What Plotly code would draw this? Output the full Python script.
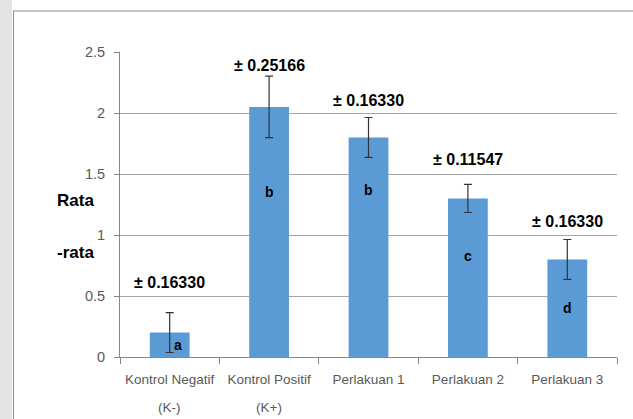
import plotly.graph_objects as go

categories = ["Kontrol Negatif (K-)", "Kontrol Positif (K+)", "Perlakuan 1", "Perlakuan 2", "Perlakuan 3"]
tick_line1 = ["Kontrol Negatif", "Kontrol Positif", "Perlakuan 1", "Perlakuan 2", "Perlakuan 3"]
tick_line2 = ["(K-)", "(K+)", "", "", ""]
means = [0.2, 2.05, 1.8, 1.3, 0.8]
sd = [0.16330, 0.25166, 0.16330, 0.11547, 0.16330]
sd_labels = ["± 0.16330", "± 0.25166", "± 0.16330", "± 0.11547", "± 0.16330"]
sd_label_y = [0.61, 2.39, 2.10, 1.62, 1.11]
letters = ["a", "b", "b", "c", "d"]
letter_y = [0.10, 1.35, 1.37, 0.83, 0.40]
y_ticks = [0, 0.5, 1, 1.5, 2, 2.5]
y_tick_text = ["0", "0.5", "1", "1.5", "2", "2.5"]

W, H = 633, 419
L, R, T, B = 120, 16, 52, 62
pw = W - L - R
ph = H - T - B

def px_x(x):
    return (x - L) / pw

def px_y(y):
    return (H - B - y) / ph

fig = go.Figure()
fig.add_trace(go.Bar(
    x=categories, y=means,
    marker=dict(color="#5b9bd5", line=dict(width=0)),
    error_y=dict(type="data", array=sd, visible=True, color="#333333", thickness=1.2, width=4),
    width=0.4,
))

tick_font = dict(family="Liberation Sans", size=13.5, color="#595959")
ytick_font = dict(family="Liberation Sans", size=14.5, color="#595959")

annotations = []
for c, lab, ly in zip(categories, sd_labels, sd_label_y):
    annotations.append(dict(x=c, y=ly, text="<b>" + lab + "</b>", showarrow=False,
                            font=dict(family="Liberation Sans", size=16, color="#000000"),
                            xref="x", yref="y"))
for i, (c, lt, ly) in enumerate(zip(categories, letters, letter_y)):
    annotations.append(dict(x=c, y=ly, text="<b>" + lt + "</b>", showarrow=False,
                            xshift=8 if i == 0 else 0,
                            font=dict(family="Liberation Sans", size=14, color="#000000"),
                            xref="x", yref="y"))
for c, t2 in zip(categories, tick_line2):
    if t2:
        annotations.append(dict(x=c, y=px_y(407), xref="x", yref="paper", text=t2,
                                yanchor="middle", showarrow=False, font=tick_font))
annotations.append(dict(x=px_x(55), y=px_y(200), xref="paper", yref="paper", text="<b>Rata</b>",
                        yanchor="middle", showarrow=False,
                        font=dict(family="Liberation Sans", size=17, color="#000")))
annotations.append(dict(x=px_x(55), y=px_y(252), xref="paper", yref="paper", text="<b>-rata</b>",
                        yanchor="middle", showarrow=False,
                        font=dict(family="Liberation Sans", size=17, color="#000")))

shapes = [
    dict(type="rect", xref="paper", yref="paper", x0=px_x(0), x1=px_x(12), y0=px_y(H), y1=px_y(0),
         fillcolor="#e4e4e4", line=dict(width=0), layer="below"),
    dict(type="line", xref="paper", yref="paper", x0=px_x(13), x1=px_x(W + 5), y0=px_y(11), y1=px_y(11),
         line=dict(color="#8c8c8c", width=1)),
    dict(type="line", xref="paper", yref="paper", x0=px_x(13.5), x1=px_x(13.5), y0=px_y(11), y1=px_y(H + 5),
         line=dict(color="#8c8c8c", width=1)),
]

fig.update_layout(
    width=W, height=H,
    margin=dict(l=L, r=R, t=T, b=B),
    paper_bgcolor="white", plot_bgcolor="white",
    showlegend=False,
    annotations=annotations,
    shapes=shapes,
    xaxis=dict(showline=True, linecolor="#868686", linewidth=1, ticks="outside", tickson="boundaries",
               ticklen=6, tickcolor="#868686", showgrid=False, automargin=False, tickangle=0,
               tickmode="array", tickvals=categories, ticktext=tick_line1,
               ticklabelstandoff=10, tickfont=tick_font),
    yaxis=dict(range=[0, 2.5], tickvals=y_ticks, ticktext=y_tick_text, showline=True,
               linecolor="#868686", linewidth=1, ticks="outside", ticklen=5, tickcolor="#868686",
               showgrid=True, gridcolor="#a6a6a6", gridwidth=1, zeroline=False, automargin=False,
               ticklabelstandoff=6, tickfont=ytick_font),
)

fig.write_html("out.html")
